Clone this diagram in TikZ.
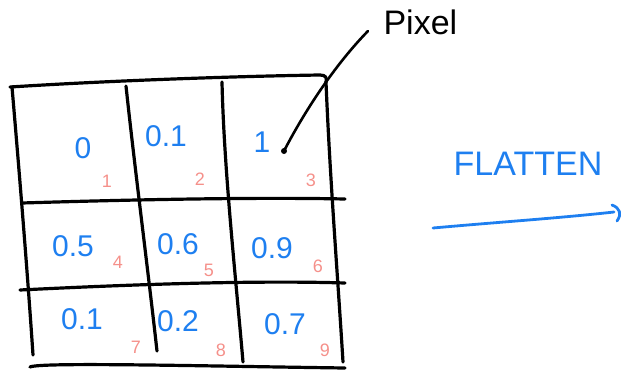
\documentclass[tikz,border=0pt]{standalone}
\usepackage{fontspec}
\setmainfont{Liberation Sans}
\begin{document}
\begin{tikzpicture}[x=1pt,y=-1pt,
  ink/.style={line width=3.2pt,line cap=round,line join=round,black},
  val/.style={text=valblue,font=\fontsize{30}{32}\selectfont},
  idx/.style={text=idxpink,font=\fontsize{18}{20}\selectfont},
  lbl/.style={font=\fontsize{34}{36}\selectfont}]
\definecolor{valblue}{HTML}{1E7FF0}
\definecolor{idxpink}{HTML}{F5908A}
\useasboundingbox (0,0) rectangle (625,373);
% grid
\draw[ink] (10,87) .. controls (120,80) and (250,76) .. (320,75) .. controls (326,75) and (327,78) .. (326,82);
\draw[ink] (12,87) .. controls (20,180) and (28,280) .. (33,355);
\draw[ink] (126,86) .. controls (135,170) and (148,270) .. (157,351);
\draw[ink] (222,82) .. controls (224,170) and (236,280) .. (243,362);
\draw[ink] (326,82) .. controls (330,180) and (338,280) .. (343,362);
\draw[ink] (22,203) .. controls (120,200) and (250,197) .. (345,199);
\draw[ink] (20,290) .. controls (120,285) and (250,280) .. (345,283);
\draw[ink] (30,367) .. controls (40,362) and (200,366) .. (345,368);
% values
\node[val] (v1) at (83,148) {0};
\node[val] (v2) at (166,136) {0.1};
\node[val] (v3) at (262,142) {1};
\node[val] (v4) at (73,246) {0.5};
\node[val] (v5) at (178,244) {0.6};
\node[val] (v6) at (272,248) {0.9};
\node[val] (v7) at (82,319) {0.1};
\node[val] (v8) at (178,321) {0.2};
\node[val] (v9) at (285,324) {0.7};
% indices
\node[idx] (i1) at (107,181) {1};
\node[idx] (i2) at (200,179) {2};
\node[idx] (i3) at (311,180) {3};
\node[idx] (i4) at (118,262) {4};
\node[idx] (i5) at (209,270) {5};
\node[idx] (i6) at (318,266) {6};
\node[idx] (i7) at (136,347) {7};
\node[idx] (i8) at (221,350) {8};
\node[idx] (i9) at (325,350) {9};
% labels
\node[lbl,anchor=west] (pix) at (380,22) {Pixel};
\node[lbl,text=valblue] (fl) at (528,164) {FLATTEN};
\coordinate (ps) at (368,31);
\coordinate (pe) at (284,151);
\draw[ink,line width=2.6pt] (ps) .. controls (330,70) and (300,120) .. (pe);
\fill (pe) circle (3pt);
% flatten arrow
\coordinate (fs) at (433,228);
\coordinate (fe) at (614,212);
\draw[line width=2.8pt,valblue,line cap=round] (fs) .. controls (500,222) and (560,218) .. (fe);
\draw[line width=2.8pt,valblue,line cap=round,line join=round] (612,205) .. controls (620,208) and (622,214) .. (617,221);
\end{tikzpicture}
\end{document}
